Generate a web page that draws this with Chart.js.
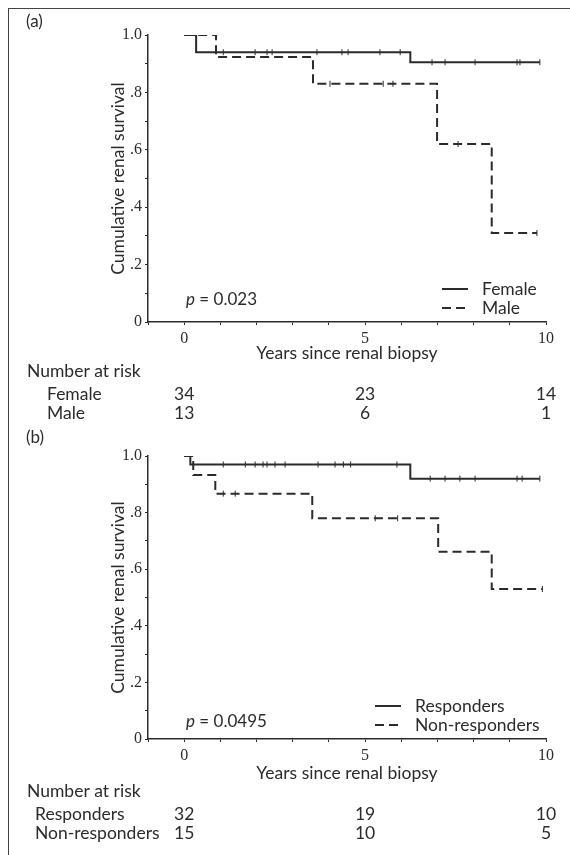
<!DOCTYPE html>
<html>
<head>
<meta charset="utf-8">
<script src="https://cdn.jsdelivr.net/npm/chart.js@4.4.1/dist/chart.umd.min.js"></script>
<style>
  body { margin: 0; background: #fff; }
  #frame { position: absolute; left: 8px; top: 8px; width: 570px; height: 850px;
           border-left: 1.5px solid #444; border-top: 1.5px solid #444; }
  .panel { position: absolute; left: 0; width: 570px; }
</style>
</head>
<body>
<div id="frame"></div>
<div class="panel" style="top:0;height:435px"><canvas id="chartA" width="570" height="435"></canvas></div>
<div class="panel" style="top:420px;height:435px"><canvas id="chartB" width="570" height="435"></canvas></div>
<script>
// Kaplan-Meier step points (years, cumulative survival)
var femaleTimes = [0, 0.33, 6.25, 9.83];
var femaleSurv = [1, 0.94, 0.905, 0.905];
var maleTimes = [0, 0.88, 3.56, 6.99, 8.5, 9.75];
var maleSurv = [1, 0.923, 0.83, 0.62, 0.31, 0.31];
var femaleCensor = [1.08, 1.96, 2.29, 2.43, 3.67, 4.36, 4.53, 5.41, 5.97, 6.85, 7.21, 8.04, 9.2, 9.28, 9.83];
var maleCensor = [4.03, 5.5, 5.77, 7.57, 9.75];

var respTimes = [0, 0.17, 6.25, 9.83];
var respSurv = [1, 0.97, 0.92, 0.92];
var nonrespTimes = [0, 0.25, 0.86, 3.54, 7.02, 8.5, 9.9];
var nonrespSurv = [1, 0.933, 0.867, 0.78, 0.662, 0.53, 0.53];
var respCensor = [1.08, 1.69, 1.96, 2.18, 2.29, 2.51, 2.79, 3.7, 4.17, 4.4, 4.6, 5.88, 6.8, 7.21, 7.62, 8.04, 9.2, 9.34, 9.83];
var nonrespCensor = [1.08, 1.41, 5.28, 5.9, 9.9];

// number at risk
var riskTimes = [0, 5, 10];
var femaleRisk = [34, 23, 14];
var maleRisk = [13, 6, 1];
var respRisk = [32, 19, 10];
var nonrespRisk = [15, 10, 5];

var xTickLabels = ['0', '5', '10'];
var yTickLabels = ['0', '.2', '.4', '.6', '.8', '1.0'];

var INK = '#2b2b2b';
var SANS = 'Lato, "Open Sans", sans-serif';
var SERIF = '"Liberation Serif", serif';

function stepPoints(times, surv) {
    return times.map(function (t, i) { return { x: t, y: surv[i] }; });
}

function survAt(times, surv, t) {
    var s = surv[0];
    for (var i = 0; i < times.length; i++) {
        if (times[i] <= t) s = surv[i];
    }
    return s;
}

function censorPoints(censor, times, surv) {
    return censor.map(function (t) { return { x: t, y: survAt(times, surv, t) }; });
}

var annotate = {
    id: 'annotate',
    afterDraw: function (chart) {
        var o = chart.options.plugins.annotate;
        var ctx = chart.ctx;
        var xs = chart.scales.x;
        ctx.save();
        ctx.fillStyle = INK;
        ctx.textBaseline = 'middle';

        // panel letter
        ctx.font = '17px ' + SANS;
        ctx.textAlign = 'left';
        ctx.fillText(o.letter, 26, o.letterY);

        // p value
        ctx.font = 'italic 17px ' + SANS;
        ctx.fillText('p', 186, o.pY);
        var pw = ctx.measureText('p').width;
        ctx.font = '17px ' + SANS;
        ctx.fillText(' = ' + o.pText, 186 + pw, o.pY);

        // legend
        ctx.strokeStyle = INK;
        ctx.lineWidth = 2;
        ctx.font = '17.5px ' + SANS;
        o.legend.forEach(function (item, i) {
            var y = o.legendY + i * 19;
            ctx.setLineDash(item.dash);
            ctx.beginPath();
            ctx.moveTo(o.legendX, y);
            ctx.lineTo(o.legendX + 26, y);
            ctx.stroke();
            ctx.setLineDash([]);
            ctx.fillText(item.label, o.legendX + 40, y);
        });

        // number at risk table
        ctx.font = '17.5px ' + SANS;
        ctx.textAlign = 'left';
        ctx.fillText('Number at risk', 27, 371);
        o.risk.forEach(function (row, r) {
            var y = 394 + r * 19;
            ctx.textAlign = 'left';
            ctx.fillText(row.label, o.rowX, y);
            ctx.textAlign = 'center';
            row.values.forEach(function (v, i) {
                ctx.fillText(String(v), xs.getPixelForValue(riskTimes[i]), y);
            });
        });
        ctx.restore();
    }
};

function makeChart(id, cfg) {
    var ctx = document.getElementById(id).getContext('2d');
    return new Chart(ctx, {
        type: 'line',
        data: {
            datasets: [{
                data: stepPoints(cfg.times1, cfg.surv1),
                stepped: 'before',
                borderColor: INK,
                borderWidth: 2,
                pointRadius: 0,
                fill: false
            }, {
                data: stepPoints(cfg.times2, cfg.surv2),
                stepped: 'before',
                borderColor: INK,
                borderWidth: 2,
                borderDash: [9, 5],
                pointRadius: 0,
                fill: false
            }, {
                type: 'scatter',
                data: censorPoints(cfg.censor1, cfg.times1, cfg.surv1),
                pointStyle: 'line',
                rotation: 90,
                pointRadius: 3,
                borderColor: INK,
                borderWidth: 1
            }, {
                type: 'scatter',
                data: censorPoints(cfg.censor2, cfg.times2, cfg.surv2),
                pointStyle: 'line',
                rotation: 90,
                pointRadius: 3,
                borderColor: INK,
                borderWidth: 1
            }]
        },
        options: {
            responsive: false,
            animation: false,
            devicePixelRatio: 1,
            layout: {
                padding: { left: 100, right: 24, top: cfg.top, bottom: cfg.bottom }
            },
            plugins: {
                legend: { display: false },
                tooltip: { enabled: false },
                annotate: cfg.annotate
            },
            scales: {
                x: {
                    type: 'linear',
                    min: -1,
                    max: 10,
                    afterFit: function (scale) { scale.height = cfg.xHeight; },
                    grid: { drawOnChartArea: false, drawTicks: true, tickLength: 3, color: INK },
                    border: { display: true, color: INK, width: 1.5 },
                    ticks: {
                        stepSize: 1,
                        autoSkip: false,
                        maxRotation: 0,
                        padding: 4,
                        color: INK,
                        font: { family: SERIF, size: 16 },
                        callback: function (v) {
                            var i = riskTimes.indexOf(v);
                            return i >= 0 ? xTickLabels[i] : '';
                        }
                    },
                    title: {
                        display: true,
                        text: 'Years since renal biopsy',
                        color: INK,
                        font: { family: SANS, size: 17.5 },
                        padding: { top: 0, bottom: 0 }
                    }
                },
                y: {
                    min: 0,
                    max: 1,
                    afterFit: function (scale) { scale.width = 48; },
                    grid: { drawOnChartArea: false, drawTicks: true, tickLength: 3, color: INK },
                    border: { display: true, color: INK, width: 1.5 },
                    ticks: {
                        stepSize: 0.1,
                        padding: 3,
                        color: INK,
                        font: { family: SERIF, size: 16 },
                        callback: function (v) {
                            var k = Math.round(v * 10);
                            return k % 2 === 0 ? yTickLabels[k / 2] : '';
                        }
                    },
                    title: {
                        display: true,
                        text: 'Cumulative renal survival',
                        color: INK,
                        font: { family: SANS, size: 17.5 },
                        padding: { top: 8, bottom: 0 }
                    }
                }
            }
        },
        plugins: [annotate]
    });
}

makeChart('chartA', {
    times1: femaleTimes, surv1: femaleSurv, censor1: femaleCensor,
    times2: maleTimes, surv2: maleSurv, censor2: maleCensor,
    top: 35, bottom: 71, xHeight: 42,
    annotate: {
        letter: '(a)', letterY: 22, pText: '0.023', pY: 300,
        legendX: 442, legendY: 289,
        legend: [{ label: 'Female', dash: [] }, { label: 'Male', dash: [9, 5] }],
        rowX: 47,
        risk: [{ label: 'Female', values: femaleRisk }, { label: 'Male', values: maleRisk }]
    }
});

makeChart('chartB', {
    times1: respTimes, surv1: respSurv, censor1: respCensor,
    times2: nonrespTimes, surv2: nonrespSurv, censor2: nonrespCensor,
    top: 36, bottom: 71, xHeight: 45,
    annotate: {
        letter: '(b)', letterY: 18, pText: '0.0495', pY: 302,
        legendX: 375, legendY: 286,
        legend: [{ label: 'Responders', dash: [] }, { label: 'Non-responders', dash: [9, 5] }],
        rowX: 35,
        risk: [{ label: 'Responders', values: respRisk }, { label: 'Non-responders', values: nonrespRisk }]
    }
});
</script>
</body>
</html>
